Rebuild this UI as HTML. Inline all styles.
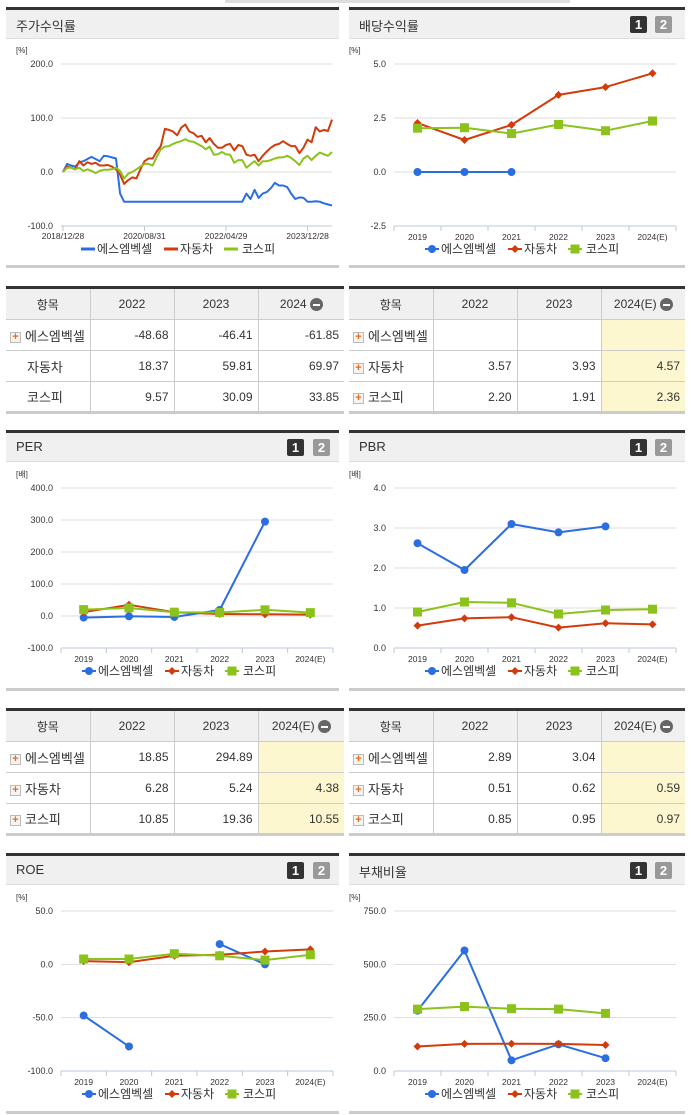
<!DOCTYPE html>
<html><head><meta charset="utf-8">
<style>
*{margin:0;padding:0;box-sizing:border-box}
body{width:691px;height:1115px;background:#fff;position:relative;overflow:hidden;font-family:"Liberation Sans","Noto Sans CJK KR",sans-serif;color:#333}
.hdr{position:absolute;height:32px;background:#f0f0f0;border-top:3px solid #333;border-bottom:1px solid #ddd}
.hdr .t{position:absolute;left:10px;top:6px;font-size:13px;color:#333}
.btn{position:absolute;top:6px;width:17px;height:17px;font-size:13px;font-weight:bold;color:#fff;text-align:center;line-height:17px;border-radius:2px}
.b1{background:#333}.b2{background:#999}
.foot{position:absolute;height:3px;background:#ccc}
table{position:absolute;border-collapse:collapse;border-top:3px solid #333;border-bottom:3px solid #ccc;font-size:12px;table-layout:fixed}
td,th{border:1px solid #ccc;height:31px;padding:0 5px;white-space:nowrap;overflow:hidden}
th{background:#f0f0f0;font-weight:normal;height:32px;color:#333}
td{text-align:right;color:#333}
td.n{text-align:left;font-size:13px;padding-left:4px;padding-right:0}
td.y{background:#fdf7d0}
.pl{display:inline-block;width:11px;height:11px;border:1px solid #bbb;background:#f4f4f4;color:#f26a10;font-size:11px;line-height:9px;text-align:center;font-weight:bold;vertical-align:middle;margin-right:4px}
.mi{display:inline-block;width:13px;height:13px;border-radius:50%;background:#666;vertical-align:middle;position:relative;margin-left:3px}
.mi:after{content:"";position:absolute;left:3px;top:6px;width:7px;height:2px;background:#fff}
tr td:first-child,tr th:first-child{border-left:none}
tr td:last-child,tr th:last-child{border-right:none}
</style></head><body>
<div style="position:absolute;left:225px;top:0;width:345px;height:3px;background:#ddd"></div>

<div class="hdr" style="left:6px;top:7px;width:333px"><span class="t">주가수익률</span></div>
<div class="hdr" style="left:349px;top:7px;width:336px"><span class="t">배당수익률</span><span class="btn b1" style="left:281px">1</span><span class="btn b2" style="left:306px">2</span></div>
<div class="hdr" style="left:6px;top:430px;width:333px"><span class="t">PER</span><span class="btn b1" style="left:281px">1</span><span class="btn b2" style="left:307px">2</span></div>
<div class="hdr" style="left:349px;top:430px;width:336px"><span class="t">PBR</span><span class="btn b1" style="left:281px">1</span><span class="btn b2" style="left:306px">2</span></div>
<div class="hdr" style="left:6px;top:853px;width:333px"><span class="t">ROE</span><span class="btn b1" style="left:281px">1</span><span class="btn b2" style="left:307px">2</span></div>
<div class="hdr" style="left:349px;top:853px;width:336px"><span class="t">부채비율</span><span class="btn b1" style="left:281px">1</span><span class="btn b2" style="left:306px">2</span></div>

<div class="foot" style="left:6px;top:265px;width:333px"></div>
<div class="foot" style="left:349px;top:265px;width:336px"></div>
<div class="foot" style="left:6px;top:688px;width:333px"></div>
<div class="foot" style="left:349px;top:688px;width:336px"></div>
<div class="foot" style="left:6px;top:1111px;width:333px"></div>
<div class="foot" style="left:349px;top:1111px;width:336px"></div>

<table style="left:6px;top:286px;width:338px">
<colgroup><col style="width:84px"><col style="width:84px"><col style="width:84px"><col style="width:86px"></colgroup>
<tr><th>항목</th><th>2022</th><th>2023</th><th>2024<span class="mi"></span></th></tr>
<tr><td class="n"><span class="pl">+</span>에스엠벡셀</td><td>-48.68</td><td>-46.41</td><td>-61.85</td></tr>
<tr><td class="n" style="padding-left:21px">자동차</td><td>18.37</td><td>59.81</td><td>69.97</td></tr>
<tr><td class="n" style="padding-left:21px">코스피</td><td>9.57</td><td>30.09</td><td>33.85</td></tr>
</table>
<table style="left:349px;top:286px;width:336px">
<colgroup><col style="width:84px"><col style="width:84px"><col style="width:84px"><col style="width:84px"></colgroup>
<tr><th>항목</th><th>2022</th><th>2023</th><th>2024(E)<span class="mi"></span></th></tr>
<tr><td class="n"><span class="pl">+</span>에스엠벡셀</td><td></td><td></td><td class="y"></td></tr>
<tr><td class="n"><span class="pl">+</span>자동차</td><td>3.57</td><td>3.93</td><td class="y">4.57</td></tr>
<tr><td class="n"><span class="pl">+</span>코스피</td><td>2.20</td><td>1.91</td><td class="y">2.36</td></tr>
</table>
<table style="left:6px;top:708px;width:338px">
<colgroup><col style="width:84px"><col style="width:84px"><col style="width:84px"><col style="width:86px"></colgroup>
<tr><th>항목</th><th>2022</th><th>2023</th><th>2024(E)<span class="mi"></span></th></tr>
<tr><td class="n"><span class="pl">+</span>에스엠벡셀</td><td>18.85</td><td>294.89</td><td class="y"></td></tr>
<tr><td class="n"><span class="pl">+</span>자동차</td><td>6.28</td><td>5.24</td><td class="y">4.38</td></tr>
<tr><td class="n"><span class="pl">+</span>코스피</td><td>10.85</td><td>19.36</td><td class="y">10.55</td></tr>
</table>
<table style="left:349px;top:708px;width:336px">
<colgroup><col style="width:84px"><col style="width:84px"><col style="width:84px"><col style="width:84px"></colgroup>
<tr><th>항목</th><th>2022</th><th>2023</th><th>2024(E)<span class="mi"></span></th></tr>
<tr><td class="n"><span class="pl">+</span>에스엠벡셀</td><td>2.89</td><td>3.04</td><td class="y"></td></tr>
<tr><td class="n"><span class="pl">+</span>자동차</td><td>0.51</td><td>0.62</td><td class="y">0.59</td></tr>
<tr><td class="n"><span class="pl">+</span>코스피</td><td>0.85</td><td>0.95</td><td class="y">0.97</td></tr>
</table>

<svg id="charts" width="691" height="1115" style="position:absolute;left:0;top:0;pointer-events:none" font-family="Liberation Sans, Noto Sans CJK KR, sans-serif"></svg>

<script>
const seriesNames = ["에스엠벡셀","자동차","코스피"];
const stockDateLabels = ["2018/12/28","2020/08/31","2022/04/29","2023/12/28"];
const stockDateLabelIdx = [0,20,40,60];
const stockSmb = [0,15,12,10,18,20,24,28,24,20,30,29,27,25,-40,-55,-55,-55,-55,-55,-55,-55,-55,-55,-55,-55,-55,-55,-55,-55,-55,-55,-55,-55,-55,-55,-55,-55,-55,-55,-55,-55,-55,-55,-55,-40,-50,-33,-48,-40,-37,-30,-20,-25,-25,-28,-40,-50,-47,-48,-55,-55,-54,-55,-58,-60,-62];
const stockAuto = [0,10,8,5,20,12,18,15,17,12,12,13,10,5,-5,-22,-15,-10,-12,5,20,25,25,38,48,80,78,75,68,82,88,75,72,65,67,55,63,52,45,45,50,52,40,50,48,32,30,32,20,30,38,45,50,52,57,52,48,48,35,45,60,55,83,75,78,76,97];
const stockKospi = [0,8,8,5,8,2,5,2,-2,2,4,4,5,8,2,-12,-3,0,5,10,15,15,12,28,42,47,48,52,55,57,61,57,56,52,48,42,47,32,33,37,33,32,17,22,22,8,14,20,12,20,20,22,25,27,27,30,26,20,13,25,30,22,30,36,33,30,37];
const stockTicks = [200,100,0,-100];

const years = ["2019","2020","2021","2022","2023","2024(E)"];
const divSmb = [0,0,0,null,null,null];
const divAuto = [2.27,1.48,2.18,3.57,3.93,4.57];
const divKospi = [2.03,2.05,1.78,2.20,1.91,2.36];
const divTicks = [5,2.5,0,-2.5];

const perSmb = [-5,-1,-3,18.85,294.89,null];
const perAuto = [12,35,12,6.28,5.24,4.38];
const perKospi = [20,25,12,10.85,19.36,10.55];
const perTicks = [400,300,200,100,0,-100];

const pbrSmb = [2.62,1.95,3.10,2.89,3.04,null];
const pbrAuto = [0.56,0.74,0.77,0.51,0.62,0.59];
const pbrKospi = [0.90,1.15,1.13,0.85,0.95,0.97];
const pbrTicks = [4,3,2,1,0];

const roeSmb = [-48,-77,null,19,0,null];
const roeAuto = [3,2,8,9,12,14];
const roeKospi = [5,5,10,8,4,9];
const roeTicks = [50,0,-50,-100];

const debtSmb = [283,565,50,125,60,null];
const debtAuto = [115,127,128,127,122,null];
const debtKospi = [290,302,292,290,270,null];
const debtTicks = [750,500,250,0];

const NS="http://www.w3.org/2000/svg";
const svg=document.getElementById('charts');
const COLORS=["#2a6ee0","#d23c0c","#8cc21c"];
function mk(tag,attrs,parent){const e=document.createElementNS(NS,tag);for(const k in attrs)e.setAttribute(k,attrs[k]);(parent||svg).appendChild(e);return e;}

function drawChart(key,x0,x1,yTop,yBot,ticks,decimals,unit,series,opts){
  const g=mk('g',{});
  
  
  const max=ticks[0],min=ticks[ticks.length-1];
  const Y=v=>yTop+(max-v)/(max-min)*(yBot-yTop);
  const u=mk('text',{x:x0-45,y:yTop-11,'font-size':8,fill:'#333'},g);u.textContent=unit;
  
  
  ticks.forEach(t=>{
    if(t!==min){const l=mk('line',{x1:x0,x2:x1,y1:Y(t),y2:Y(t),stroke:'#ddd','stroke-width':1},g);
      
      }
    const tx=mk('text',{x:x0-8,y:Y(t)+3,'font-size':9,'text-anchor':'end',fill:'#333'},g);
    tx.textContent=t.toFixed(decimals);
    
    
  });
  const ax=mk('line',{x1:x0,x2:x1,y1:yBot,y2:yBot,stroke:'#bcc8d8','stroke-width':1},g);
  
  
  let X;
  if(opts.time){
    const n=opts.n;X=i=>x0+2+i*(x1-x0-2)/(n-1);
    opts.labelIdx.forEach((li,k)=>{
      mk('line',{x1:X(li),x2:X(li),y1:yBot,y2:yBot+5,stroke:'#bcc8d8'},g);
      const tx=mk('text',{x:X(li),y:yBot+13,'font-size':8.5,'text-anchor':'middle',fill:'#333'},g);
      tx.textContent=opts.labels[k];
      
      
    });
  } else {
    const bw=(x1-x0)/opts.cats.length;X=i=>x0+bw*(i+0.5);
    for(let i=0;i<=opts.cats.length;i++)mk('line',{x1:x0+bw*i,x2:x0+bw*i,y1:yBot,y2:yBot+5,stroke:'#bcc8d8'},g);
    opts.cats.forEach((c,i)=>{
      const tx=mk('text',{x:X(i),y:yBot+14,'font-size':8.5,'text-anchor':'middle',fill:'#333'},g);
      tx.textContent=c;
      
      
    });
  }
  series.forEach((arr,si)=>{
    let d='';let pen=false;
    arr.forEach((v,i)=>{if(v===null){pen=false;return;}d+=(pen?'L':'M')+X(i).toFixed(1)+','+Y(v).toFixed(1);pen=true;});
    const p=mk('path',{d:d,fill:'none',stroke:COLORS[si],'stroke-width':2,'stroke-linejoin':'round'},g);
    
    
    if(!opts.time){
      arr.forEach((v,i)=>{if(v===null)return;
        const m=marker(si,X(i),Y(v),g);
        
        
      });
    }
  });
  const lx=opts.legendX, ly=yBot+27;
  const offs=[[0,16],[83,99],[143,161]];
  seriesNames.forEach((nm,si)=>{
    const lg=mk('g',{},g);
    
    
    mk('line',{x1:lx+offs[si][0],x2:lx+offs[si][0]+14,y1:ly-4,y2:ly-4,stroke:COLORS[si],'stroke-width':opts.time?3:2},lg);
    if(!opts.time)marker(si,lx+offs[si][0]+7,ly-4,lg);
    const t=mk('text',{x:lx+offs[si][1],y:ly,'font-size':12,fill:'#333'},lg);t.textContent=nm;
  });
}
function marker(si,x,y,g){
  if(si===0)return mk('circle',{cx:x,cy:y,r:4,fill:COLORS[0]},g);
  if(si===1)return mk('path',{d:`M${x},${y-4}L${x+4},${y}L${x},${y+4}L${x-4},${y}Z`,fill:COLORS[1]},g);
  return mk('rect',{x:x-4.5,y:y-4.5,width:9,height:9,fill:COLORS[2]},g);
}

drawChart('stock-return',61,332,64,226,stockTicks,1,'[%]',[stockSmb,stockAuto,stockKospi],{time:true,n:stockSmb.length,labels:stockDateLabels,labelIdx:stockDateLabelIdx,legendX:81});
drawChart('dividend',394,676,64,226,divTicks,1,'[%]',[divSmb,divAuto,divKospi],{cats:years,legendX:425});
drawChart('per',61,333,488,648,perTicks,1,'[배]',[perSmb,perAuto,perKospi],{cats:years,legendX:82});
drawChart('pbr',394,676,488,648,pbrTicks,1,'[배]',[pbrSmb,pbrAuto,pbrKospi],{cats:years,legendX:425});
drawChart('roe',61,333,911,1071,roeTicks,1,'[%]',[roeSmb,roeAuto,roeKospi],{cats:years,legendX:82});
drawChart('debt',394,676,911,1071,debtTicks,1,'[%]',[debtSmb,debtAuto,debtKospi],{cats:years,legendX:425});
</script>
</body></html>
